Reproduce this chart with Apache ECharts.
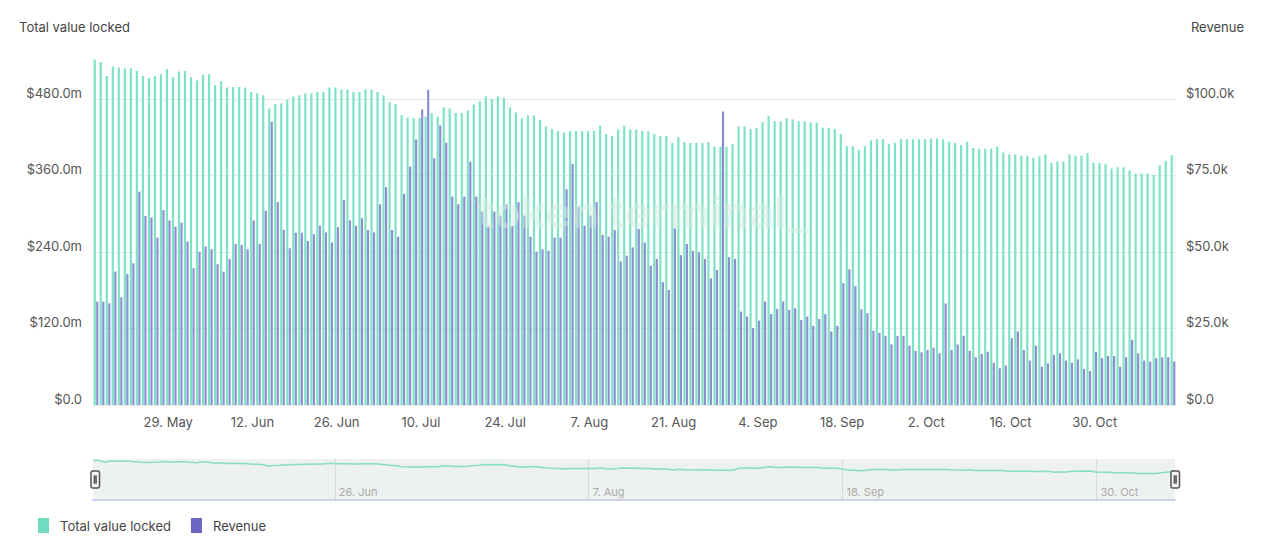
<!DOCTYPE html>
<html>
<head>
<meta charset="utf-8">
<script src="https://cdn.jsdelivr.net/npm/echarts@6/dist/echarts.min.js"></script>
<style>
html,body{margin:0;padding:0;background:#fff;}
#chart{width:1269px;height:544px;}
</style>
</head>
<body>
<div id="chart"></div>
<script>
// ---- data ----
const startDate = [2023, 4, 17]; // 17 May (first bar)
const dayCount = 180;
const months = ['Jan','Feb','Mar','Apr','May','Jun','Jul','Aug','Sep','Oct','Nov','Dec'];
const categories = [];
for (let i = 0; i < dayCount; i++) {
  const d = new Date(Date.UTC(startDate[0], startDate[1], startDate[2] + i));
  categories.push(d.getUTCDate() + '. ' + months[d.getUTCMonth()]);
}
const xTickLabels = ['29. May','12. Jun','26. Jun','10. Jul','24. Jul','7. Aug','21. Aug','4. Sep','18. Sep','2. Oct','16. Oct','30. Oct'];
const navTickLabels = ['26. Jun','7. Aug','18. Sep','30. Oct'];
const leftTicks = [0, 120, 240, 360, 480];      // $m
const rightTicks = [0, 25, 50, 75, 100];        // $k

// Total value locked, $m
const tvl = [
542,538,516,531,529,528,528,524,516,513,516,519,527,514,523,524,514,509,518,519,
502,508,498,499,499,498,491,489,486,465,472,473,479,484,486,489,489,491,491,498,
498,495,495,491,491,495,495,491,486,475,472,455,451,450,450,452,458,452,467,465,
458,458,462,471,476,484,480,484,482,467,459,450,454,454,447,437,433,430,427,430,
430,430,430,430,438,425,422,432,438,432,432,430,429,425,422,422,411,420,412,411,
411,411,412,405,405,405,409,437,437,433,435,444,453,445,445,450,448,445,445,443,
443,435,435,433,425,406,406,400,406,415,417,417,409,411,417,417,417,417,417,418,
418,417,413,411,408,413,403,402,402,402,405,396,393,393,391,391,388,390,393,380,
382,382,393,391,391,395,380,380,378,371,373,373,368,363,363,363,361,376,383,392
];
// Revenue, $k
const revenue = [
33.8,33.8,33.2,43.6,35.2,42.8,46.3,69.7,61.8,61.3,54.7,63.7,60.3,58.3,59.6,53.4,44.7,50.1,51.8,50.9,
46.0,43.6,47.7,52.6,52.3,50.9,60.3,52.6,63.5,92.6,66.3,57.2,51.2,56.3,56.3,53.6,55.8,58.6,56.4,53.1,
58.1,67.0,60.3,58.6,61.0,57.2,56.4,65.6,71.2,57.2,55.0,69.0,77.9,86.8,96.6,103.0,80.6,91.3,85.7,68.1,
65.6,68.1,79.5,68.1,63.2,58.3,63.2,61.9,65.6,58.6,66.3,61.9,55.0,50.1,50.9,50.4,54.7,54.7,70.5,78.8,
64.8,58.6,61.9,66.3,55.6,55.0,57.2,46.9,48.8,51.5,57.5,53.1,45.5,47.7,40.1,37.6,57.7,49.0,52.6,50.3,
49.9,47.7,41.4,44.1,95.9,48.3,47.7,30.5,28.9,25.1,27.6,33.8,29.7,31.4,33.8,31.1,31.6,27.8,28.9,25.9,
28.1,29.7,24.0,25.9,39.8,44.3,38.9,31.3,30.0,24.3,23.6,22.6,19.8,22.6,22.6,19.4,17.7,17.2,18.0,18.7,
16.9,33.2,18.0,19.8,22.6,17.7,15.6,16.7,17.4,13.8,12.0,12.9,21.8,24.0,18.0,14.5,19.4,12.5,13.6,16.4,
16.9,14.5,13.8,14.9,11.8,11.1,17.4,15.3,16.0,16.0,12.5,15.6,21.3,16.9,14.5,14.2,15.3,15.6,15.6,14.2
];

// ---- chart ----
const FONT = 'Inter, "Noto Sans", sans-serif';
const TEAL = '#7de2c6';
const PURPLE = '#8c90d3';
const chart = echarts.init(document.getElementById('chart'), null, {renderer: 'svg'});
chart.setOption({
  animation: false,
  textStyle: {fontFamily: FONT},
  title: [
    {text: 'Total value locked', left: 14, top: 15, textStyle: {fontSize: 13, fontWeight: 'normal', color: '#444', fontFamily: FONT}},
    {text: 'Revenue', right: 20, top: 15, textStyle: {fontSize: 13, fontWeight: 'normal', color: '#444', fontFamily: FONT}}
  ],
  legend: {
    left: 33, top: 513, icon: 'rect', itemWidth: 11, itemHeight: 15, itemGap: 20,
    textStyle: {fontSize: 13, color: '#444', fontFamily: FONT, padding: [0, 0, 0, 6]},
    data: [
      {name: 'Total value locked', itemStyle: {color: '#6fdcc0', opacity: 1}},
      {name: 'Revenue', itemStyle: {color: '#6b66c4', opacity: 1}}
    ]
  },
  grid: [
    {left: 93, right: 93, top: 99, bottom: 139},
    {left: 93, right: 94, top: 459, height: 41, show: true, backgroundColor: '#edf1ef', borderWidth: 0}
  ],
  xAxis: [
    {
      type: 'category', data: categories, gridIndex: 0, boundaryGap: true,
      axisLine: {show: false}, axisTick: {show: false},
      axisLabel: {
        interval: (i, v) => xTickLabels.indexOf(v) >= 0,
        color: '#555', fontSize: 13, margin: 10, fontFamily: FONT
      },
      splitLine: {show: false}
    },
    {
      type: 'category', data: categories, gridIndex: 1, boundaryGap: false,
      axisLine: {show: true, lineStyle: {color: '#cfcfee', width: 2}},
      axisTick: {show: false},
      axisLabel: {
        inside: true, interval: (i, v) => navTickLabels.indexOf(v) >= 0,
        color: '#aaa', fontSize: 11, align: 'left', margin: 3, padding: [0, 0, 0, 4], fontFamily: FONT
      },
      splitLine: {show: true, interval: (i, v) => navTickLabels.indexOf(v) >= 0, lineStyle: {color: '#d6dbd9', width: 1}}
    }
  ],
  yAxis: [
    {
      type: 'value', gridIndex: 0, min: 0, max: 480, interval: 120, position: 'left',
      axisLine: {show: false}, axisTick: {show: false},
      axisLabel: {formatter: v => v === 0 ? '$0.0' : '$' + v.toFixed(1) + 'm', color: '#555', fontSize: 13, margin: 11, verticalAlign: 'bottom', fontFamily: FONT},
      splitLine: {lineStyle: {color: '#e9e9e9', width: 1}}
    },
    {
      type: 'value', gridIndex: 0, min: 0, max: 100, interval: 25, position: 'right',
      axisLine: {show: false}, axisTick: {show: false},
      axisLabel: {formatter: v => v === 0 ? '$0.0' : '$' + v.toFixed(1) + 'k', color: '#555', fontSize: 13, margin: 10, verticalAlign: 'bottom', fontFamily: FONT},
      splitLine: {show: false}
    },
    {type: 'value', gridIndex: 1, min: 0, max: 560, show: false}
  ],
  dataZoom: [{
    type: 'slider', xAxisIndex: [0], start: 0, end: 100,
    left: 93, right: 94, top: 459, height: 41,
    showDataShadow: false, showDetail: false, brushSelect: false,
    backgroundColor: 'rgba(0,0,0,0)', fillerColor: 'rgba(0,0,0,0)', borderColor: 'rgba(0,0,0,0)',
    handleIcon: 'path://M2,0 H8 Q10,0 10,2 V18 Q10,20 8,20 H2 Q0,20 0,18 V2 Q0,0 2,0 Z M4,5 V15 M6,5 V15',
    handleSize: 17,
    handleStyle: {color: '#f4f4f4', borderColor: '#555', borderWidth: 1.5},
    moveHandleSize: 0
  }],
  graphic: [{
    type: 'text', left: 478, top: 190, silent: true, z: 100,
    style: {text: 'token terminal_', fontSize: 44, fontWeight: 'bold', fontFamily: FONT, fill: 'rgba(212,234,226,0.5)'}
  }],
  series: [
    {
      name: 'Total value locked', type: 'bar', xAxisIndex: 0, yAxisIndex: 0, data: tvl,
      barWidth: 2.2, barGap: '15%', clip: false,
      itemStyle: {color: TEAL}
    },
    {
      name: 'Revenue', type: 'bar', xAxisIndex: 0, yAxisIndex: 1, data: revenue,
      barWidth: 2.2, clip: false,
      itemStyle: {color: PURPLE}
    },
    {
      name: 'nav', type: 'line', xAxisIndex: 1, yAxisIndex: 2, data: tvl,
      showSymbol: false, symbol: 'none', lineStyle: {color: '#86dcc6', width: 1.5}, silent: true
    }
  ]
});
</script>
</body>
</html>
